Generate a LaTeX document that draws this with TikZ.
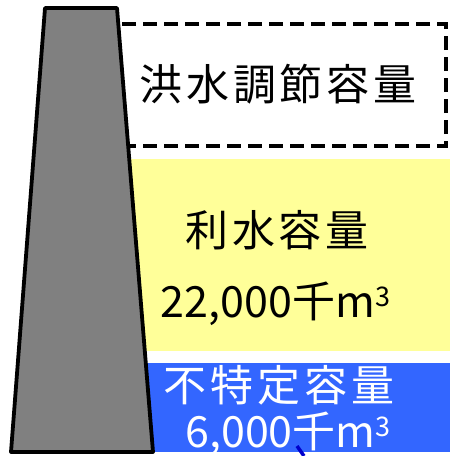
\documentclass[tikz,border=0pt]{standalone}
\usepackage{fontspec}
\setmainfont{Noto Sans CJK JP}
\newfontfamily\jpwide[LetterSpace=9]{Noto Sans CJK JP}
\definecolor{damgray}{HTML}{808080}
\definecolor{waterY}{HTML}{FFFF99}
\definecolor{waterB}{HTML}{3366FF}
\definecolor{darkblue}{HTML}{0000CC}
\tikzset{
  bigjp/.style={inner sep=0pt, anchor=base, font=\fontsize{43}{43}\selectfont\jpwide},
  numtext/.style={inner sep=0pt, anchor=base, font=\fontsize{43}{43}\selectfont},
}
\newcommand{\cubeup}{\raisebox{11pt}{\fontsize{27}{27}\selectfont 3}}
\begin{document}
\begin{tikzpicture}[x=1pt,y=-1pt]
\useasboundingbox (0,0) rectangle (450,456);
% flood control capacity (dashed)
\draw[line width=4pt, dash pattern=on 14pt off 7pt] (118,24) rectangle (446,146);
% water use capacity
\fill[waterY] (120,159) rectangle (450,351);
% unspecified capacity
\fill[waterB] (120,363) rectangle (450,452);
\coordinate (bl1) at (297,446);
\coordinate (bl2) at (304,456);
\draw[darkblue, line width=3.5pt] (bl1) -- (bl2);
% dam body
\draw[fill=damgray, line width=3.8pt, line join=round] (45,8) -- (117,8) -- (153,452) -- (11,452) -- cycle;
% texts
\node[bigjp] (t1) at (278,100) {洪水調節容量};
\node[bigjp] (t2) at (277,246) {利水容量};
\node[bigjp, text=white] (t3) at (279,401) {不特定容量};
\node[numtext] (n1) at (275.5,317) {22,000千m\cubeup};
\node[numtext, text=white] (n2) at (288,447) {6,000千m\cubeup};
\end{tikzpicture}
\end{document}
